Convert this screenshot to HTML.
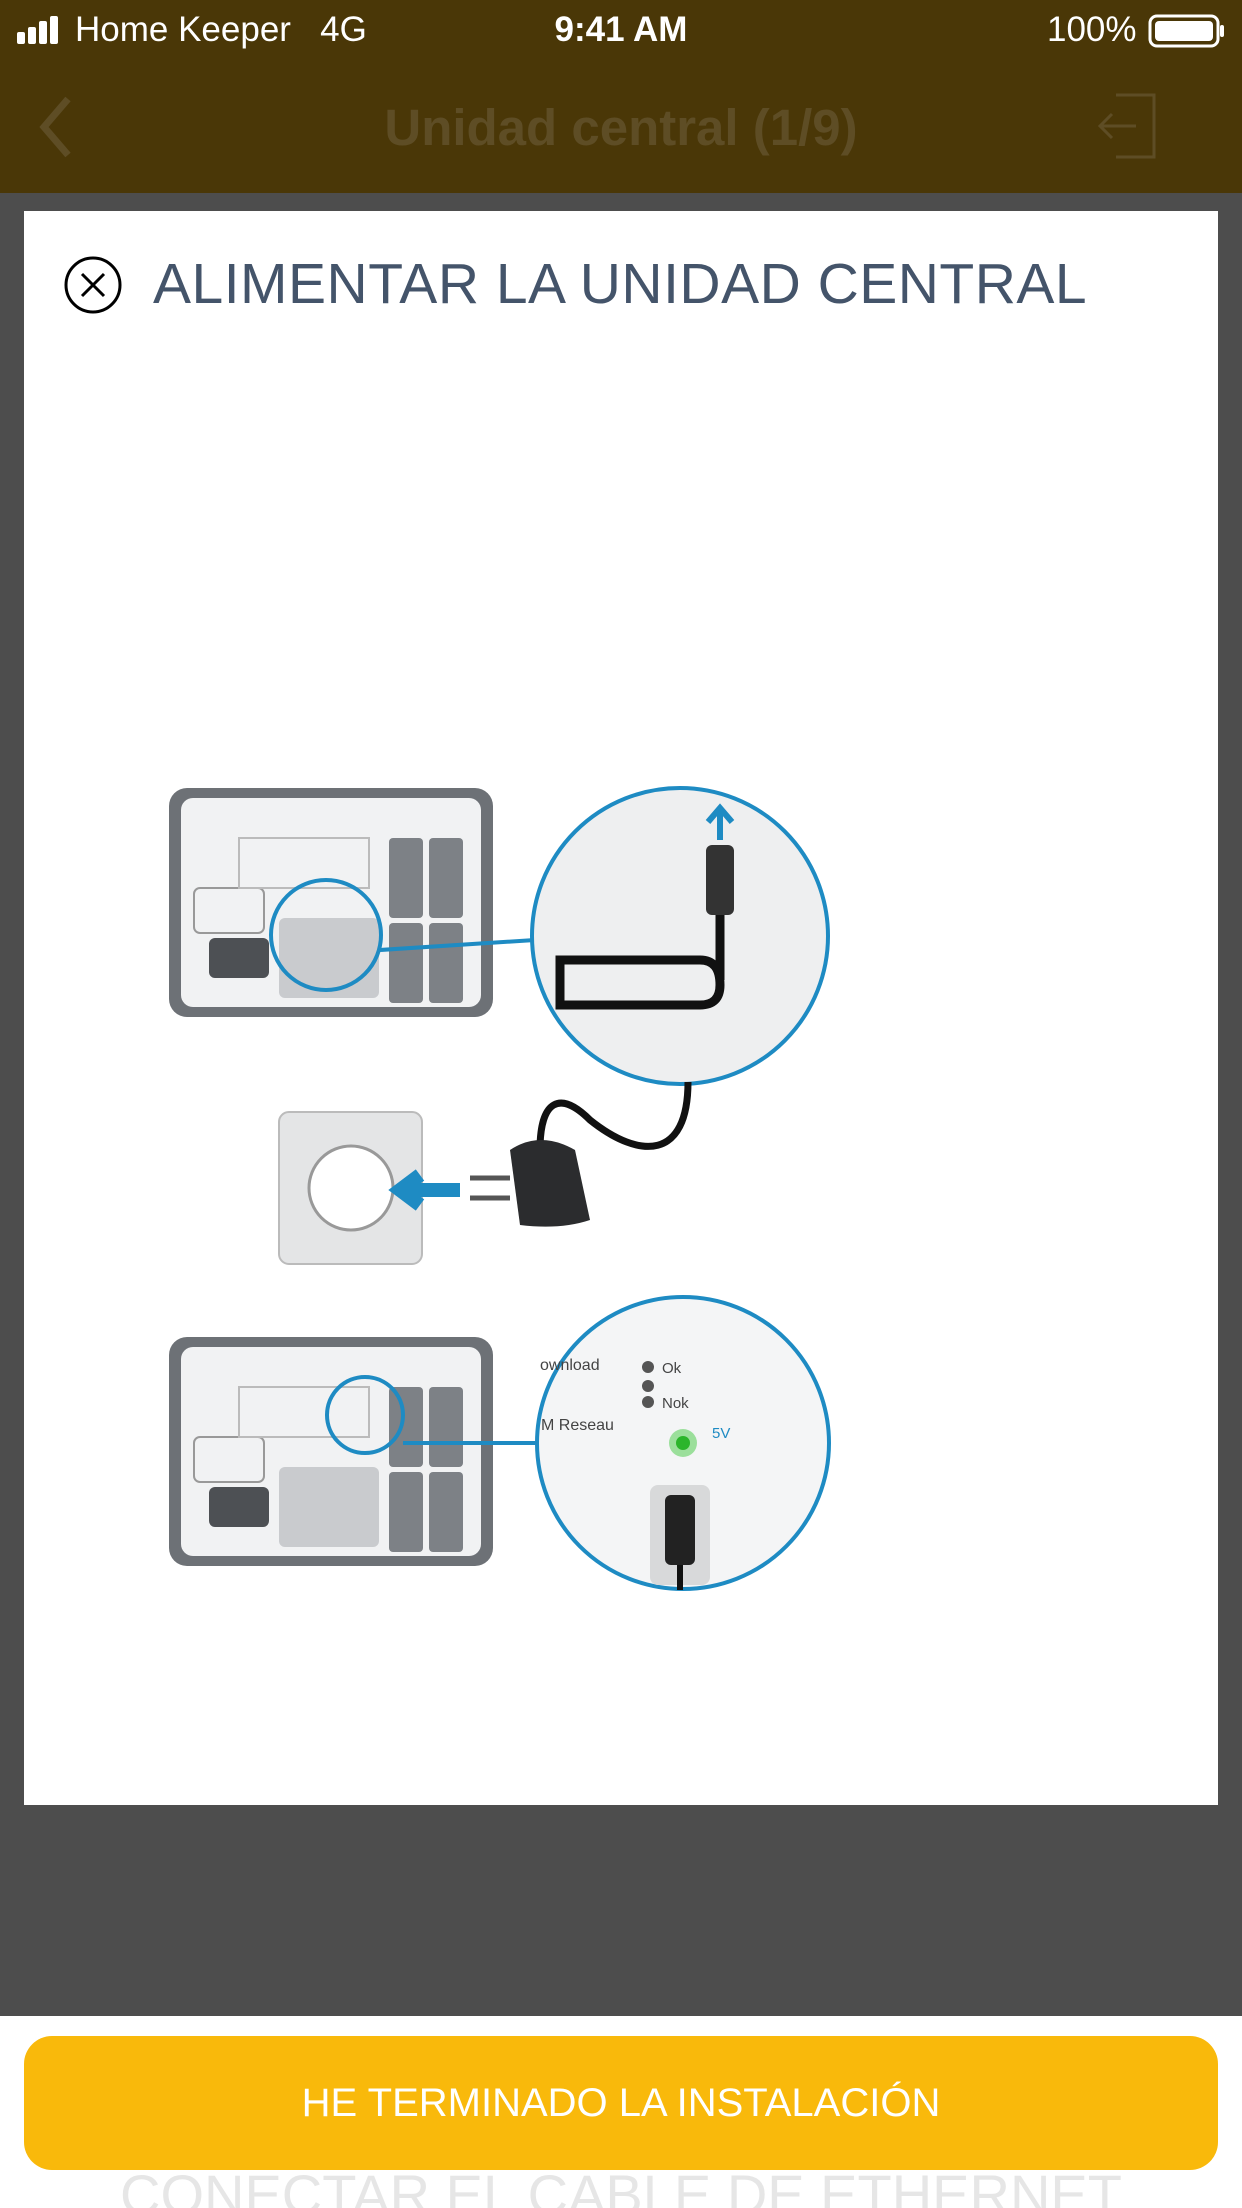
<!DOCTYPE html>
<html><head><meta charset="utf-8"><style>
html,body{margin:0;padding:0;width:1242px;height:2208px;overflow:hidden;background:#4d4d4d;font-family:"Liberation Sans",sans-serif}
.sb{position:absolute;left:0;top:0;width:1242px;height:63px;background:#4a3707;color:#fff;font-size:35px}
.nav{position:absolute;left:0;top:63px;width:1242px;height:130px;background:#4a3707}
.card{position:absolute;left:24px;top:211px;width:1194px;height:1594px;background:#fff}
.bottom{position:absolute;left:0;top:2016px;width:1242px;height:192px;background:#fff;overflow:hidden}
.btn{position:absolute;left:24px;top:20px;width:1194px;height:134px;background:#f9b90b;border-radius:28px;color:#fff;font-size:40px;text-align:center;line-height:134px}
.ghost{position:absolute;left:0;width:1242px;top:146px;text-align:center;font-size:56px;color:#e6e6e6}
</style></head><body>
<div class="sb">
 <svg style="position:absolute;left:17px;top:16px" width="50" height="28"><rect x="0" y="16" width="8" height="12" rx="2" fill="#fff"/><rect x="11" y="11" width="8" height="17" rx="2" fill="#fff"/><rect x="22" y="5" width="8" height="23" rx="2" fill="#fff"/><rect x="33" y="0" width="8" height="28" rx="2" fill="#fff"/></svg>
 <span style="position:absolute;left:75px;top:10px">Home Keeper&nbsp;&nbsp;&nbsp;4G</span>
 <span style="position:absolute;left:0;width:1242px;text-align:center;top:10px;font-weight:bold">9:41 AM</span>
 <span style="position:absolute;left:1047px;top:10px">100%</span>
 <svg style="position:absolute;left:1148px;top:14px" width="80" height="36"><rect x="2" y="2" width="68" height="30" rx="7" fill="none" stroke="#fff" stroke-width="3"/><rect x="7" y="7" width="58" height="20" rx="4" fill="#fff"/><rect x="72" y="11" width="4" height="12" rx="2" fill="#fff"/></svg>
</div>
<div class="nav">
 <svg style="position:absolute;left:36px;top:32px" width="40" height="64"><path d="M32 4 L8 32 L32 60" fill="none" stroke="#5e4d25" stroke-width="7"/></svg>
 <div style="position:absolute;left:0;width:1242px;text-align:center;top:35px;font-size:51px;font-weight:bold;color:#5e4d25">Unidad central (1/9)</div>
 <svg style="position:absolute;left:1096px;top:28px" width="64" height="70"><path d="M20 4 H58 V66 H20" fill="none" stroke="#5e4d25" stroke-width="3"/><path d="M4 35 H40 M16 23 L4 35 L16 47" fill="none" stroke="#5e4d25" stroke-width="3"/></svg>
</div>
<div class="card">
 <svg style="position:absolute;left:38px;top:43px" width="62" height="62"><circle cx="31" cy="31" r="27" fill="none" stroke="#000" stroke-width="3"/><path d="M20 20 L42 42 M42 20 L20 42" stroke="#000" stroke-width="3"/></svg>
 <div style="position:absolute;left:129px;top:40px;font-size:57px;color:#44546a;letter-spacing:0.5px">ALIMENTAR LA UNIDAD CENTRAL</div>
</div>
<svg style="position:absolute;left:0;top:0" width="1242" height="2208">
 <defs>
  <g id="dev">
   <rect x="0" y="0" width="324" height="229" rx="18" fill="#6d7176"/>
   <rect x="12" y="10" width="300" height="209" rx="12" fill="#f1f2f3"/>
   <rect x="220" y="50" width="34" height="80" rx="4" fill="#7d8186"/>
   <rect x="260" y="50" width="34" height="80" rx="4" fill="#7d8186"/>
   <rect x="220" y="135" width="34" height="80" rx="4" fill="#7d8186"/>
   <rect x="260" y="135" width="34" height="80" rx="4" fill="#7d8186"/>
   <rect x="40" y="150" width="60" height="40" rx="6" fill="#4d5054"/>
   <rect x="25" y="100" width="70" height="45" rx="6" fill="none" stroke="#999" stroke-width="2"/>
   <rect x="110" y="130" width="100" height="80" rx="6" fill="#c9cbce"/>
   <rect x="70" y="50" width="130" height="50" fill="none" stroke="#bbb" stroke-width="2"/>
  </g>
 </defs>
 <use href="#dev" x="169" y="788"/>
 <circle cx="326" cy="935" r="55" fill="none" stroke="#1e8bc3" stroke-width="4"/>
 <line x1="380" y1="950" x2="535" y2="940" stroke="#1e8bc3" stroke-width="4"/>
 <circle cx="680" cy="936" r="148" fill="#eeeff0" stroke="#1e8bc3" stroke-width="4"/>
 <path d="M560 960 H700 Q720 960 720 985 Q720 1005 700 1005 H560 Z" fill="none" stroke="#111" stroke-width="9"/>
 <path d="M720 980 V880" stroke="#111" stroke-width="9"/>
 <rect x="706" y="845" width="28" height="70" rx="6" fill="#333"/>
 <path d="M720 840 V810 M708 822 L720 808 L732 822" stroke="#1e8bc3" stroke-width="6" fill="none"/>
 <path d="M688 1082 C688 1160 640 1160 590 1120 C560 1090 540 1100 540 1150" fill="none" stroke="#111" stroke-width="7"/>
 <rect x="279" y="1112" width="143" height="152" rx="10" fill="#e4e5e6" stroke="#bbb" stroke-width="2"/>
 <circle cx="351" cy="1188" r="42" fill="#fff" stroke="#999" stroke-width="3"/>
 <path d="M400 1190 H460 M420 1175 L400 1190 L420 1205" stroke="#1e8bc3" stroke-width="14" fill="none"/>
 <path d="M470 1178 H510 M470 1198 H510" stroke="#555" stroke-width="5"/>
 <path d="M510 1150 Q540 1130 575 1150 L590 1220 Q560 1230 520 1225 Z" fill="#2b2c2e"/>
 <use href="#dev" x="169" y="1337"/>
 <circle cx="365" cy="1415" r="38" fill="none" stroke="#1e8bc3" stroke-width="4"/>
 <line x1="403" y1="1443" x2="537" y2="1443" stroke="#1e8bc3" stroke-width="4"/>
 <circle cx="683" cy="1443" r="146" fill="#f4f5f6" stroke="#1e8bc3" stroke-width="4"/>
 <text x="540" y="1370" font-size="16" fill="#444" font-family="Liberation Sans">ownload</text>
 <text x="541" y="1430" font-size="16" fill="#444" font-family="Liberation Sans">M Reseau</text>
 <circle cx="648" cy="1367" r="6" fill="#555"/><circle cx="648" cy="1386" r="6" fill="#555"/><circle cx="648" cy="1402" r="6" fill="#555"/>
 <text x="662" y="1373" font-size="15" fill="#444" font-family="Liberation Sans">Ok</text>
 <text x="662" y="1408" font-size="15" fill="#444" font-family="Liberation Sans">Nok</text>
 <circle cx="683" cy="1443" r="14" fill="#5fd05f" opacity="0.6"/><circle cx="683" cy="1443" r="7" fill="#2bb52b"/>
 <text x="712" y="1438" font-size="15" fill="#1e8bc3" font-family="Liberation Sans">5V</text>
 <rect x="650" y="1485" width="60" height="100" rx="8" fill="#d8d9da"/>
 <rect x="665" y="1495" width="30" height="70" rx="6" fill="#222"/>
 <path d="M680 1565 V1590" stroke="#111" stroke-width="6"/>
</svg>
<div class="bottom">
 <div class="ghost">CONECTAR EL CABLE DE ETHERNET</div>
 <div class="btn">HE TERMINADO LA INSTALACIÓN</div>
</div>
</body></html>
